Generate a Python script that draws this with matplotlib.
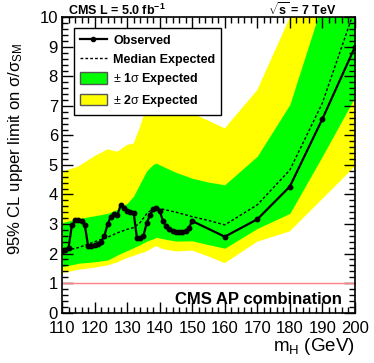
import numpy as np
import matplotlib
matplotlib.use('Agg')
import matplotlib.pyplot as plt
from matplotlib.lines import Line2D
from matplotlib.patches import Patch
from matplotlib.ticker import MultipleLocator

plt.rcParams['font.family'] = ['Liberation Sans', 'DejaVu Sans']
plt.rcParams['mathtext.fontset'] = 'custom'
plt.rcParams['mathtext.rm'] = 'Liberation Sans'
plt.rcParams['mathtext.it'] = 'Liberation Sans'
plt.rcParams['mathtext.bf'] = 'Liberation Sans:bold'

# observed limit
mass_obs = [110, 111, 112, 113, 114, 115, 116, 117, 118, 119, 120, 121, 122, 123, 124,
            125, 126, 127, 128, 129, 130, 131, 132, 133, 134, 135, 136, 137, 138, 139,
            140, 141, 142, 143, 144, 145, 146, 147, 148, 149, 150, 160, 170, 180, 190, 200]
observed = [2.1, 2.12, 2.2, 2.95, 3.12, 3.15, 3.1, 2.95, 2.25, 2.25, 2.3, 2.33, 2.4, 2.6, 3.0,
            3.25, 3.35, 3.3, 3.65, 3.55, 3.45, 3.42, 3.38, 2.52, 2.52, 2.6, 3.03, 3.3, 3.5, 3.55,
            3.45, 3.1, 2.92, 2.82, 2.76, 2.74, 2.72, 2.72, 2.76, 2.88, 3.1, 2.57, 3.16, 4.27, 6.56, 9.0]

# expected limit and bands
mass_exp = [110, 115, 120, 124, 127, 130, 132, 134, 136, 138, 139, 141, 145, 150, 155, 160,
            170, 180, 190, 200]
median = [2.07, 2.2, 2.4, 2.55, 2.7, 2.82, 2.88, 3.05, 3.35, 3.53, 3.55, 3.5, 3.4, 3.25, 3.12,
          2.97, 3.65, 4.83, 7.1, 10.3]
up1 = [3.05, 3.18, 3.28, 3.36, 3.5, 3.7, 3.95, 4.38, 4.8, 5.02, 5.06, 4.95, 4.75, 4.55, 4.42,
       4.33, 5.3, 7.05, 10.5, 13.5]
down1 = [1.55, 1.67, 1.72, 1.78, 1.95, 2.1, 2.2, 2.3, 2.42, 2.5, 2.55, 2.5, 2.42, 2.43, 2.3,
         2.18, 2.85, 3.36, 5.3, 7.3]
up2 = [4.77, 4.95, 5.3, 5.53, 5.45, 5.68, 5.73, 6.3, 7.0, 7.3, 7.35, 7.3, 7.0, 6.75, 6.5,
       6.24, 7.54, 10.0, 12.5, 15.0]
down2 = [1.33, 1.45, 1.52, 1.6, 1.7, 1.85, 1.92, 2.0, 2.07, 2.2, 2.25, 2.15, 2.07, 2.1, 1.9,
         1.67, 2.4, 2.75, 3.85, 4.95]

fig = plt.figure(figsize=(3.74, 3.63), dpi=100)
ax = fig.add_axes([0.166, 0.139, 0.783, 0.813])

ax.fill_between(mass_exp, down2, up2, color='#ffff00', lw=0)
ax.fill_between(mass_exp, down1, up1, color='#00ff00', lw=0)
ax.plot(mass_exp, median, color='black', ls=(0, (2, 1.5)), lw=1)
ax.plot(mass_obs, observed, color='black', lw=1.6, marker='o', ms=3.2)
ax.axhline(1, color='#ff8080', lw=1)

ax.set_xlim(110, 200)
ax.set_ylim(0, 10)
ax.xaxis.set_major_locator(MultipleLocator(10))
ax.xaxis.set_minor_locator(MultipleLocator(2))
ax.yaxis.set_major_locator(MultipleLocator(1))
ax.yaxis.set_minor_locator(MultipleLocator(0.2))
ax.tick_params(which='both', direction='in', top=True, right=True, labelsize=12, width=1)
ax.tick_params(which='major', length=8)
ax.tick_params(which='minor', length=4)
ax.tick_params(axis='x', pad=6)
ax.tick_params(axis='y', pad=3)
for s in ax.spines.values():
    s.set_linewidth(1.2)

fig.text(16 / 374, 1 - 43 / 363, r'95% CL upper limit on $\sigma/\sigma_{\rm SM}$', fontsize=12,
         rotation=90, ha='center', va='top')
ax.set_xlabel(r'm$_{\rm H}$ (GeV)', fontsize=13.5, loc='right', labelpad=0)

fig.text(0.182, 1 - 15 / 363, r'CMS L = 5.0 fb$^{\mathbf{-1}}$', fontsize=9, weight='bold', va='baseline')
fig.text(0.9, 1 - 15 / 363, r'$\sqrt{\mathbf{s}}$ = 7 TeV', fontsize=9, weight='bold', va='baseline', ha='right')
ax.text(0.955, 0.045, 'CMS AP combination', transform=ax.transAxes, fontsize=12,
        weight='bold', ha='right', va='center')

handles = [Line2D([], [], color='black', lw=1.6, marker='o', ms=3),
           Line2D([], [], color='black', ls=(0, (2, 1.5)), lw=1),
           Patch(facecolor='#00ff00', edgecolor='#555555'),
           Patch(facecolor='#ffff00', edgecolor='#555555')]
labels = ['Observed', 'Median Expected', r'$\pm$ 1$\sigma$ Expected', r'$\pm$ 2$\sigma$ Expected']
leg = ax.legend(handles, labels, loc='upper left', bbox_to_anchor=(0.041, 0.963),
                prop={'weight': 'bold', 'size': 9}, frameon=True, fancybox=False,
                edgecolor='black', framealpha=1, borderpad=0.45, labelspacing=0.45,
                handlelength=2.2, handleheight=1.05, handletextpad=0.5, borderaxespad=0)
leg.get_frame().set_linewidth(1)

fig.savefig('out.png', dpi=100)
